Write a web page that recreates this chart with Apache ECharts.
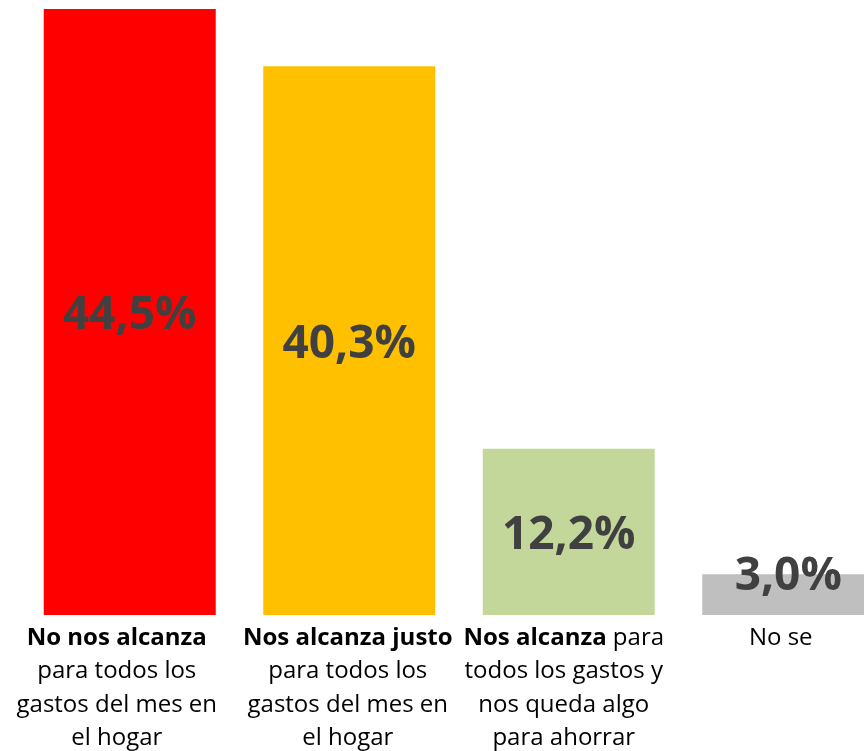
<!DOCTYPE html>
<html>
<head>
<meta charset="utf-8">
<script src="https://cdn.jsdelivr.net/npm/echarts@6/dist/echarts.min.js"></script>
<style>
  html, body { margin: 0; padding: 0; background: #fff; }
  #main { width: 864px; height: 751px; }
</style>
</head>
<body>
<div id="main"></div>
<script>
// category labels: {b|...} parts are bold
const categories = [
  '{b|No nos alcanza}\npara todos los\ngastos del mes en\nel hogar',
  '{b|Nos alcanza justo}\npara todos los\ngastos del mes en\nel hogar',
  '{b|Nos alcanza} para\ntodos los gastos y\nnos queda algo\npara ahorrar',
  'No se'
];
const values = [44.5, 40.3, 12.2, 3.0];
const barColors = ['#FF0000', '#FFC000', '#C4D79B', '#BFBFBF'];
// small horizontal shift of each category label (right padding), as in the original
const labelShift = [26, 3, 10, 15];

const chart = echarts.init(document.getElementById('main'));

const fmt = (v) => v.toFixed(1).replace('.', ',') + '%';

chart.setOption({
  animation: false,
  grid: { left: 20, width: 878, top: 9, bottom: 136, outerBoundsMode: 'none', containLabel: false },
  xAxis: {
    type: 'category',
    data: categories.map((c, i) => ({ value: c, textStyle: { padding: [0, labelShift[i], 0, 0] } })),
    axisLine: { show: false },
    axisTick: { show: false },
    axisLabel: {
      interval: 0,
      margin: 6,
      color: '#000',
      fontFamily: 'Open Sans',
      fontSize: 24,
      lineHeight: 33.5,
      hideOverlap: false,
      rich: {
        b: { fontWeight: 'bold', fontFamily: 'Open Sans', fontSize: 24, lineHeight: 33.5, color: '#000' }
      }
    }
  },
  yAxis: {
    type: 'value',
    min: 0,
    max: 44.5,
    show: false,
    splitLine: { show: false }
  },
  series: [{
    type: 'bar',
    barWidth: 172,
    data: values.map((v, i) => ({
      value: v,
      itemStyle: { color: barColors[i] },
      label: i === 3 ? { offset: [0, -18] } : {}
    })),
    label: {
      show: true,
      position: 'inside',
      offset: [0, 4],
      formatter: (p) => fmt(p.value),
      color: '#404040',
      fontFamily: 'Open Sans',
      fontWeight: 'bold',
      fontSize: 46
    }
  }]
});
</script>
</body>
</html>
